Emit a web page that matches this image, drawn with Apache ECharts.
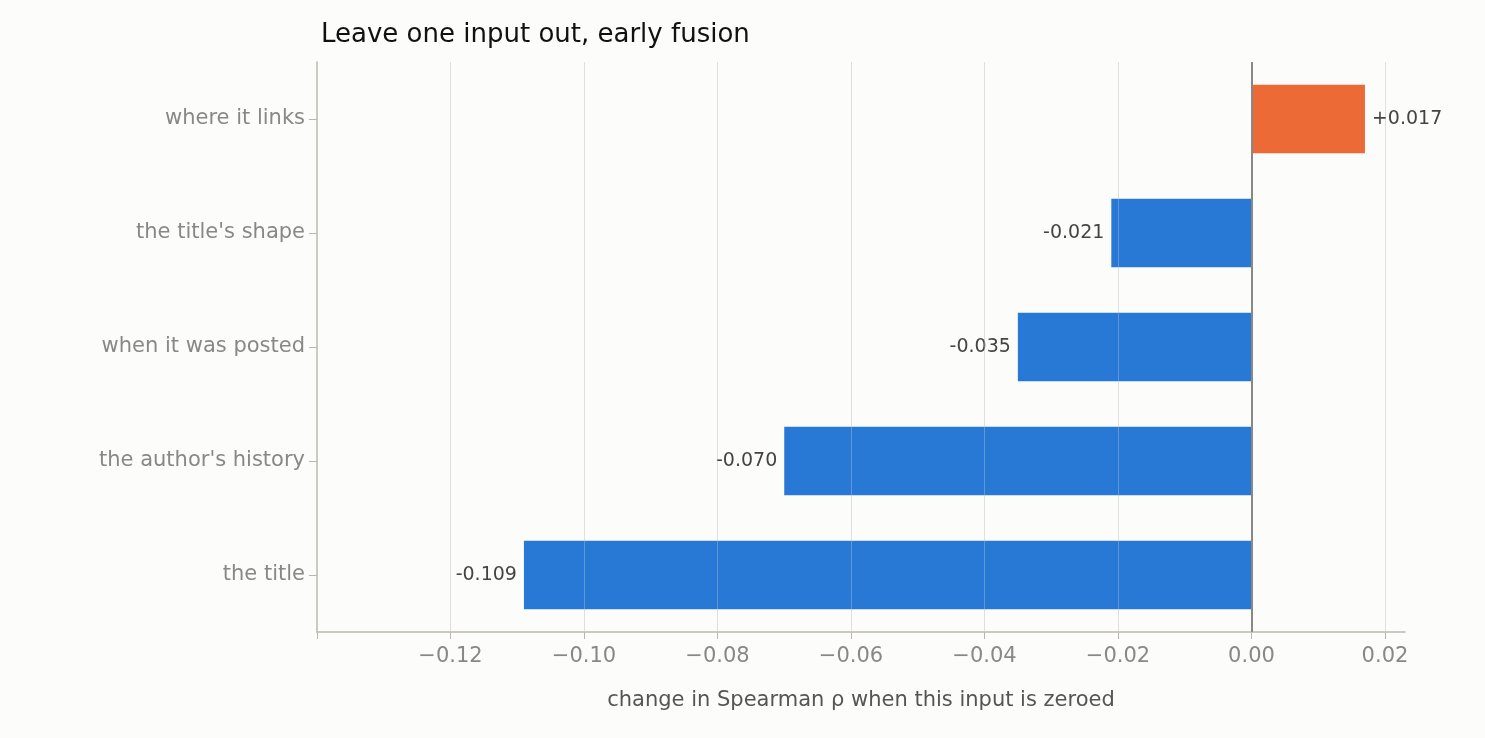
<!DOCTYPE html>
<html><head><meta charset="utf-8">
<script src="https://cdn.jsdelivr.net/npm/echarts@6/dist/echarts.min.js"></script>
<style>html,body{margin:0;padding:0;background:#fcfcfa}#c{width:1485px;height:738px}</style>
</head><body><div id="c"></div>
<script>
const categories = ["the title","the author's history","when it was posted","the title's shape","where it links"];
const values = [-0.109,-0.070,-0.035,-0.021,0.017];
const labels = ["-0.109","-0.070","-0.035","-0.021","+0.017"];
const ticks = [-0.12,-0.10,-0.08,-0.06,-0.04,-0.02,0.00,0.02];
const chart = echarts.init(document.getElementById('c'));
chart.setOption({
  backgroundColor:'#fcfcfa',
  animation:false,
  title:{text:'Leave one input out, early fusion',left:316,top:17,textStyle:{fontFamily:'DejaVu Sans',fontSize:26,fontWeight:'normal',color:'#111'}},
  grid:{left:317,right:80,top:62,bottom:106},
  xAxis:{type:'value',min:-0.14,max:0.023,interval:0.02,
    name:'change in Spearman ρ when this input is zeroed',nameLocation:'middle',nameGap:58,
    nameTextStyle:{fontFamily:'DejaVu Sans',fontSize:21,color:'#555'},
    axisLine:{show:true,onZero:false,lineStyle:{color:'#bbb8ae',width:1.5}},
    axisTick:{show:true,length:7,lineStyle:{color:'#bbb8ae'}},
    axisLabel:{fontFamily:'DejaVu Sans',fontSize:21,color:'#888',margin:14,
      formatter:v=>{if(Math.abs(v+0.14)<1e-9)return '';return (v<0?'\u2212':'')+Math.abs(v).toFixed(2);}},
    splitLine:{show:true,showMinLine:false,showMaxLine:false,lineStyle:{color:'#e6e6e3',width:1}}},
  yAxis:{type:'category',data:categories,
    axisLine:{show:true,onZero:false,lineStyle:{color:'#bbb8ae',width:1.5}},
    axisTick:{show:true,length:8,alignWithLabel:true,lineStyle:{color:'#bbb8ae'}},
    axisLabel:{fontFamily:'DejaVu Sans',fontSize:21,color:'#888',margin:12}},
  series:[{type:'bar',barWidth:'60%',
    data:values.map((v,i)=>({value:v,itemStyle:{color:v>0?'#ec6a36':'#2878d6'},
      label:{show:true,position:v>0?'right':'left',distance:7,formatter:labels[i],
        fontFamily:'DejaVu Sans',fontSize:19,color:'#444'}})),
    markLine:{silent:true,symbol:'none',label:{show:false},
      data:ticks.filter(t=>t!==0).map(t=>({xAxis:t,lineStyle:{color:'rgba(210,210,205,0.35)',width:1,type:'solid'}}))
        .concat([{xAxis:0,lineStyle:{color:'#888',width:2,type:'solid'}}])}
  }]
});
</script></body></html>
